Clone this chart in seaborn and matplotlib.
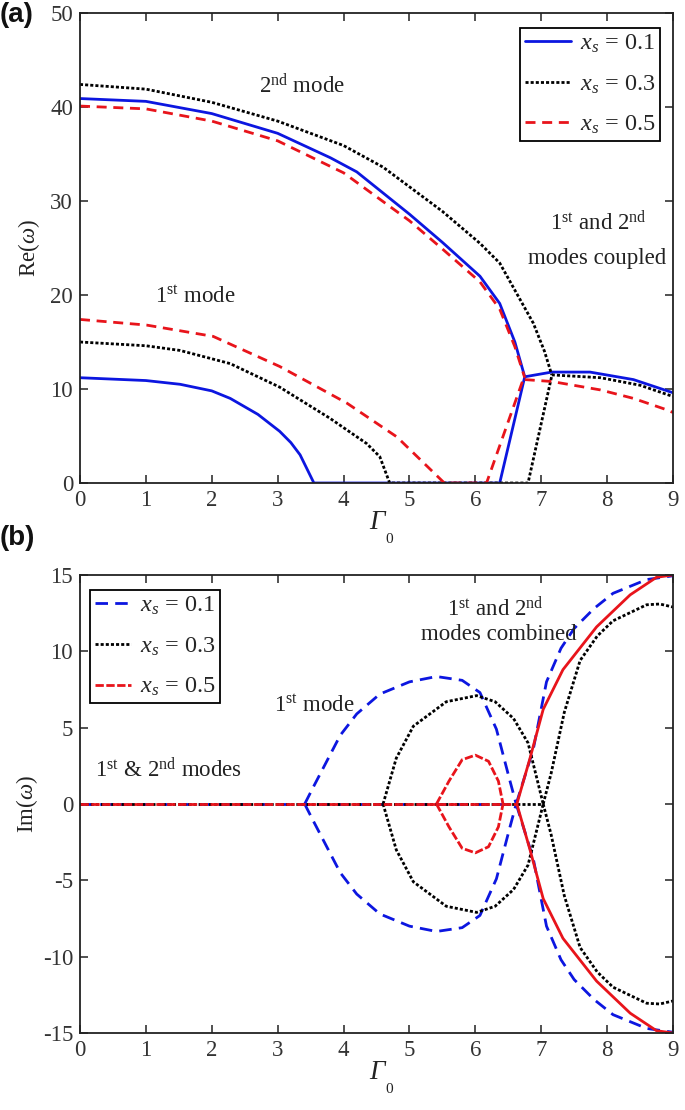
import matplotlib
matplotlib.use('Agg')
import numpy as np
import pandas as pd
import seaborn as sns
import matplotlib.pyplot as plt

sns.set_theme(style='ticks')
plt.rcParams['font.family'] = ['Liberation Serif', 'DejaVu Serif']
plt.rcParams['mathtext.fontset'] = 'custom'
plt.rcParams['mathtext.rm'] = 'Liberation Serif'
plt.rcParams['mathtext.it'] = 'Liberation Serif:italic'
plt.rcParams['mathtext.bf'] = 'Liberation Serif:bold'
plt.rcParams['axes.unicode_minus'] = False

# ---------------- Panel (a): Re(omega) ----------------
# x_s = 0.1
g_a1_m2 = [0, 1, 2, 3, 3.8, 4.2, 5, 5.5, 6.07, 6.37, 6.6, 6.75]
re_a1_m2 = [40.9, 40.6, 39.3, 37.2, 34.6, 33.1, 28.6, 25.6, 22.0, 19.1, 15.0, 11.3]
g_a1_cp = [6.75, 7.16, 7.74, 8.4, 9.0]
re_a1_cp = [11.3, 11.8, 11.8, 11.0, 9.6]
g_a1_m1 = [0, 1, 1.52, 2, 2.28, 2.7, 3.03, 3.2, 3.34, 3.55, 6.37, 6.75]
re_a1_m1 = [11.2, 10.9, 10.5, 9.8, 9.0, 7.3, 5.5, 4.3, 3.0, 0, 0, 11.3]
# x_s = 0.3
g_a3_m2 = [0, 1, 2, 3, 4, 4.6, 5.5, 6.07, 6.37, 6.88, 7.05, 7.16]
re_a3_m2 = [42.4, 41.9, 40.5, 38.5, 35.9, 33.6, 28.9, 25.5, 23.4, 17.0, 14.0, 11.5]
g_a3_cp = [7.16, 7.9, 8.5, 9.0]
re_a3_cp = [11.5, 11.2, 10.4, 9.2]
g_a3_m1 = [0, 1, 1.52, 2.28, 3.03, 3.79, 4.35, 4.55, 4.7, 6.8, 7.16]
re_a3_m1 = [15.0, 14.6, 14.1, 12.7, 10.2, 6.9, 4.2, 2.8, 0, 0, 11.4]
# x_s = 0.5
g_a5_m2 = [0, 1, 2, 3, 4, 5, 5.5, 6.07, 6.37, 6.6, 6.75]
re_a5_m2 = [40.1, 39.8, 38.5, 36.4, 33.0, 27.9, 24.9, 21.4, 18.5, 14.5, 11.2]
g_a5_cp = [6.75, 7.16, 7.9, 8.4, 8.9, 9.0]
re_a5_cp = [11.0, 10.8, 9.9, 9.0, 7.8, 7.5]
g_a5_m1 = [0, 1.01, 2.02, 3.03, 4.05, 4.81, 5.53, 6.17, 6.73]
re_a5_m1 = [17.4, 16.8, 15.6, 12.4, 8.5, 4.9, 0, 0, 11.1]

# ---------------- Panel (b): Im(omega) (conjugate pairs, +/-) ----------------
g_b1_zero = [0, 6.62]
g_b1_loop = [3.41, 3.54, 3.95, 4.2, 4.55, 5.0, 5.41, 5.8, 6.07, 6.32, 6.52, 6.62]
im_b1_loop = [0, 1.1, 4.5, 5.9, 7.2, 8.0, 8.35, 8.1, 7.3, 4.9, 1.6, 0]
g_b1_out = [6.62, 6.88, 7.08, 7.3, 7.5, 7.8, 8.09, 8.6, 9.0]
im_b1_out = [0, 3.6, 8.0, 10.2, 11.5, 12.8, 13.8, 14.7, 14.95]

g_b3_zero = [0, 7.03]
g_b3_loop = [4.6, 4.8, 5.06, 5.56, 6.02, 6.3, 6.58, 6.8, 7.03]
im_b3_loop = [0, 3.0, 5.1, 6.7, 7.1, 6.7, 5.6, 4.0, 0]
g_b3_out = [7.03, 7.15, 7.35, 7.59, 7.85, 8.09, 8.6, 8.8, 9.0]
im_b3_out = [0, 2.0, 6.0, 9.4, 11.0, 12.0, 13.05, 13.1, 12.9]

g_b5_zero = [0, 6.63]
g_b5_loop = [5.41, 5.6, 5.8, 6.0, 6.2, 6.35, 6.42]
im_b5_loop = [0, 1.5, 2.9, 3.2, 2.8, 1.5, 0]
g_b5_out = [6.63, 6.83, 7.03, 7.33, 7.84, 8.35, 8.75, 9.0]
im_b5_out = [0, 3.0, 6.2, 8.8, 11.6, 13.7, 14.85, 15.0]

xs_labels = [r'$x_s$ = 0.1', r'$x_s$ = 0.3', r'$x_s$ = 0.5']

BLUE = '#0c16e0'
RED = '#e8141b'
BLACK = '#000000'
LW = 2.0
ls_dot = (0, (1.1, 0.75))
ls_red_a = (0, (3.6, 2.4))
ls_blue_b = (0, (4.5, 2.6))
ls_red_b = (0, (3.0, 0.9))

FS = 16.5

fig = plt.figure(figsize=(6.85, 11.10), dpi=100)
ax1 = fig.add_axes([80/685, 1-483/1110, 593/685, 470/1110])
ax2 = fig.add_axes([80/685, 1-1033/1110, 593/685, 458/1110])


def line(ax, g, v, color, ls, label=None, sign=1):
    sns.lineplot(x=np.asarray(g, float), y=sign*np.asarray(v, float), ax=ax, color=color,
                 linestyle=ls, linewidth=LW, sort=False, estimator=None, label=label,
                 legend=False)

# panel (a)
line(ax1, g_a1_m2, re_a1_m2, BLUE, '-', xs_labels[0])
line(ax1, g_a1_cp, re_a1_cp, BLUE, '-')
line(ax1, g_a1_m1, re_a1_m1, BLUE, '-')
line(ax1, g_a3_m2, re_a3_m2, BLACK, ls_dot, xs_labels[1])
line(ax1, g_a3_cp, re_a3_cp, BLACK, ls_dot)
line(ax1, g_a3_m1, re_a3_m1, BLACK, ls_dot)
line(ax1, g_a5_m2, re_a5_m2, RED, ls_red_a, xs_labels[2])
line(ax1, g_a5_cp, re_a5_cp, RED, ls_red_a)
line(ax1, g_a5_m1, re_a5_m1, RED, ls_red_a)

# panel (b)
line(ax2, g_b1_zero, [0, 0], BLUE, ls_blue_b, xs_labels[0])
for s in (1, -1):
    line(ax2, g_b1_loop, im_b1_loop, BLUE, ls_blue_b, sign=s)
    line(ax2, g_b1_out, im_b1_out, BLUE, ls_blue_b, sign=s)
line(ax2, g_b3_zero, [0, 0], BLACK, ls_dot, xs_labels[1])
for s in (1, -1):
    line(ax2, g_b3_loop, im_b3_loop, BLACK, ls_dot, sign=s)
    line(ax2, g_b3_out, im_b3_out, BLACK, ls_dot, sign=s)
line(ax2, g_b5_zero, [0, 0], RED, ls_red_b, xs_labels[2])
for s in (1, -1):
    line(ax2, g_b5_loop, im_b5_loop, RED, ls_red_b, sign=s)
    line(ax2, g_b5_out, im_b5_out, RED, '-', sign=s)

for ax in (ax1, ax2):
    ax.set_xlim(0, 9)
    ax.set_xticks(range(0, 10))
    ax.tick_params(direction='in', top=True, right=True, length=6, width=1.1,
                   labelsize=FS, colors='#222222', labelcolor='#333333', pad=5)
    for sp in ax.spines.values():
        sp.set_linewidth(1.3)
        sp.set_color('#222222')
    ax.set_xlabel('Γ', fontsize=FS + 3, fontstyle='italic', labelpad=-1, color='#222222')
    ax.annotate('0', xy=(1.0, 0.0), xycoords=ax.xaxis.label, xytext=(1, 1),
                textcoords='offset points', ha='left', va='top', fontsize=11, color='#222222')

ax1.set_ylim(0, 50)
ax1.set_yticks(range(0, 51, 10))
ax1.set_ylabel(r'Re($\omega$)', fontsize=FS, color='#222222', labelpad=6)
ax2.set_ylim(-15, 15)
ax2.set_yticks(range(-15, 16, 5))
ax2.set_ylabel(r'Im($\omega$)', fontsize=FS, color='#222222', labelpad=2)

leg_kw = dict(fontsize=FS + 1, frameon=True, fancybox=False, edgecolor='black',
              framealpha=1, borderpad=0.2, labelspacing=0.75, handletextpad=0.35,
              borderaxespad=0.0)
l1 = ax1.legend(loc='upper right', bbox_to_anchor=(0.978, 0.968), handlelength=1.9, **leg_kw)
l2 = ax2.legend(loc='upper left', bbox_to_anchor=(0.017, 0.967), handlelength=1.5, **leg_kw)
for lg in (l1, l2):
    lg.get_frame().set_linewidth(1.3)

# annotations
tc = '#222222'
ax1.text(3.37, 42.2, r'2$^{\mathrm{nd}}$ mode', ha='center', va='center', fontsize=FS, color=tc)
ax1.text(1.75, 19.8, r'1$^{\mathrm{st}}$ mode', ha='center', va='center', fontsize=FS, color=tc)
ax1.text(7.87, 27.7, r'1$^{\mathrm{st}}$ and 2$^{\mathrm{nd}}$', ha='center', va='center', fontsize=FS, color=tc)
ax1.text(7.85, 23.9, 'modes coupled', ha='center', va='center', fontsize=FS, color=tc)

ax2.text(0.23, 2.2, r'1$^{\mathrm{st}}$ & 2$^{\mathrm{nd}}$ modes', ha='left', va='center', fontsize=FS, color=tc)
ax2.text(3.55, 6.4, r'1$^{\mathrm{st}}$ mode', ha='center', va='center', fontsize=FS, color=tc)
ax2.text(6.3, 12.8, r'1$^{\mathrm{st}}$ and 2$^{\mathrm{nd}}$', ha='center', va='center', fontsize=FS, color=tc)
ax2.text(6.36, 11.1, 'modes combined', ha='center', va='center', fontsize=FS, color=tc)

fig.text(0.0, 0.998, '(a)', ha='left', va='top', fontsize=20, fontweight='bold',
         family='Liberation Sans', color='#111111')
fig.text(0.0, 0.527, '(b)', ha='left', va='top', fontsize=20, fontweight='bold',
         family='Liberation Sans', color='#111111')

fig.savefig('out.png', dpi=100, facecolor='white')
